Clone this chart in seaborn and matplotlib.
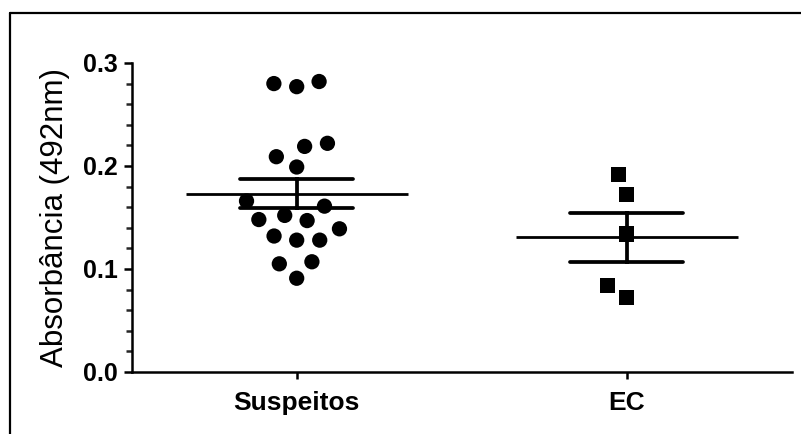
import numpy as np
import pandas as pd
import seaborn as sns
import matplotlib.pyplot as plt
from matplotlib.lines import Line2D
from matplotlib.ticker import MultipleLocator, FormatStrFormatter

# Absorbance readings (492 nm) for each group
groups = ["Suspeitos", "EC"]
suspeitos = [0.280, 0.277, 0.282, 0.222, 0.219, 0.209, 0.199,
             0.161, 0.166, 0.148, 0.152, 0.147, 0.139, 0.128,
             0.128, 0.132, 0.107, 0.105, 0.091]
ec = [0.192, 0.172, 0.134, 0.084, 0.072]
group_markers = ["o", "s"]

y_label = "Absorbância (492nm)"

sns.set_theme(style="ticks")
plt.rcParams["font.family"] = ["Liberation Sans", "DejaVu Sans"]

df = pd.DataFrame({
    "grupo": ["Suspeitos"] * len(suspeitos) + ["EC"] * len(ec),
    "abs": suspeitos + ec,
})

fig = plt.figure(figsize=(8.01, 4.34), dpi=100)
fig.patch.set_facecolor("white")
ax = fig.add_axes([0.1644, 0.1429, 0.8240, 0.7120])
ax.set_facecolor("white")

# Individual points, spread sideways as a swarm
for g, mk in zip(groups, group_markers):
    sns.swarmplot(data=df[df["grupo"] == g], x="grupo", y="abs", order=groups,
                  marker=mk, color="black", size=11, linewidth=4.8,
                  edgecolor="none", ax=ax, zorder=3)

# Mean +/- SEM
sns.pointplot(data=df, x="grupo", y="abs", order=groups, errorbar="se",
              capsize=0.344, color="black", markers="", linestyles="none",
              err_kws={"linewidth": 2.7, "solid_capstyle": "round"}, ax=ax)

# Long horizontal line at each group mean
means = df.groupby("grupo")["abs"].mean().reindex(groups).to_numpy()
pos = np.arange(len(groups))
ax.hlines(means, pos - 0.336, pos + 0.336, color="black", linewidth=2.0,
          zorder=2)

ax.set_xlim(-0.5, 1.5)
ax.set_ylim(0, 0.3)
ax.yaxis.set_major_locator(MultipleLocator(0.1))
ax.yaxis.set_minor_locator(MultipleLocator(0.02))
ax.yaxis.set_major_formatter(FormatStrFormatter("%.1f"))

ax.set_xlabel("")
ax.set_ylabel(y_label, fontsize=22.5, labelpad=9, color="black")

for lbl in ax.get_xticklabels():
    lbl.set_fontweight("bold")
for lbl in ax.get_yticklabels():
    lbl.set_fontweight("bold")

ax.tick_params(axis="x", direction="out", length=5, width=1.8, pad=9,
               labelsize=19, colors="black")
ax.tick_params(axis="y", which="major", direction="out", length=6, width=1.8,
               pad=4, labelsize=18, colors="black")
ax.tick_params(axis="y", which="minor", direction="out", length=4, width=1.8)

sns.despine(ax=ax)
for side in ("left", "bottom"):
    ax.spines[side].set_linewidth(1.8)
    ax.spines[side].set_color("black")

# Outer frame (left and top edges)
fx = 9.5 / 801
fy = 1 - 12.5 / 434
fig.add_artist(Line2D([fx, fx], [0, fy], transform=fig.transFigure,
                      color="black", linewidth=1.6))
fig.add_artist(Line2D([fx, 1], [fy, fy], transform=fig.transFigure,
                      color="black", linewidth=1.6))

fig.savefig("out.png", dpi=100, facecolor="white")
